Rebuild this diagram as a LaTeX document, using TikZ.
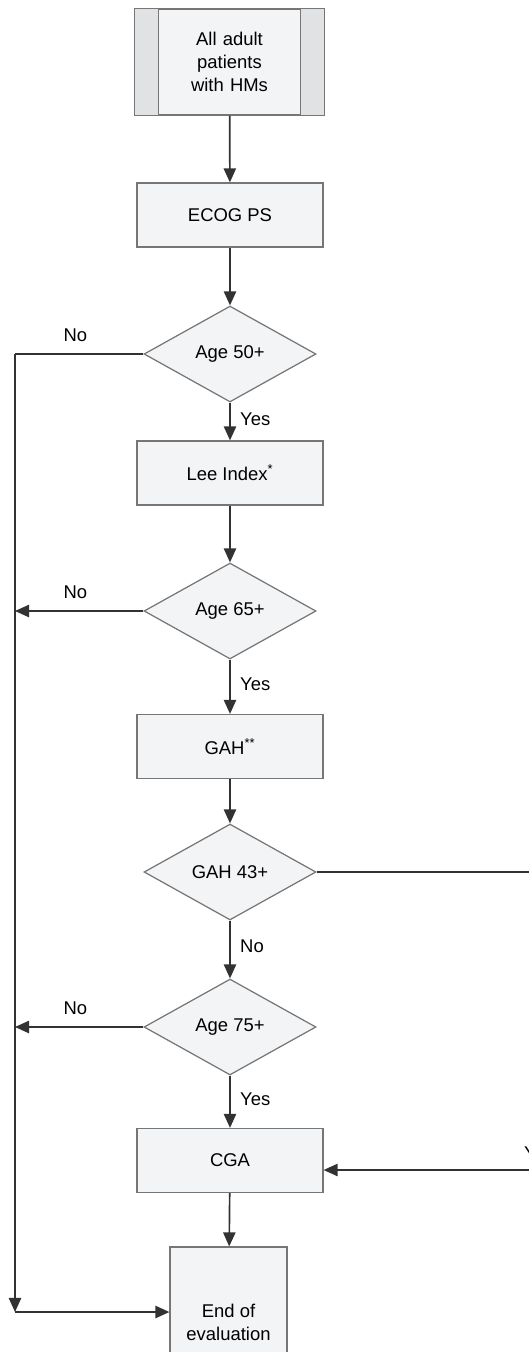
\documentclass[tikz,border=0pt]{standalone}
\usepackage{fontspec}
\setmainfont{Liberation Sans}
\usetikzlibrary{shapes.geometric,arrows.meta}
\definecolor{boxfill}{RGB}{242, 244, 245}
\definecolor{panelfill}{RGB}{225, 226, 228}
\definecolor{boxline}{RGB}{118, 118, 118}
\definecolor{flowline}{RGB}{50, 50, 50}

\begin{document}
\begin{tikzpicture}[x=0.02cm, y=-0.02cm,
  every node/.style={font=\fontsize{10.5}{13}\selectfont, text=black},
  stepbox/.style={draw=boxline, fill=boxfill, line width=0.7pt, minimum width=3.72cm, minimum height=1.28cm, align=center, inner sep=0pt},
  decision/.style={draw=boxline, fill=boxfill, line width=0.7pt, diamond, aspect=1.8, minimum width=3.44cm, minimum height=1.92cm, inner sep=0pt},
  flow/.style={draw=flowline, line width=0.95pt},
  arr/.style={flow, -{Triangle[length=8pt, width=7pt]}}]
  \useasboundingbox (0,0) rectangle (528,1352);

  % start box with side panels
  \node[stepbox, minimum width=3.78cm, minimum height=2.12cm, text width=3cm] (start) at (229.5,62) {All adult\\patients\\with HMs};
  \fill[panelfill] (start.north west) rectangle ([xshift=0.48cm]start.south west);
  \fill[panelfill] ([xshift=-0.48cm]start.north east) rectangle (start.south east);
  \draw[boxline, line width=0.7pt] (start.north west) rectangle (start.south east);
  \draw[boxline, line width=0.7pt] ([xshift=0.48cm]start.north west) -- ([xshift=0.48cm]start.south west);
  \draw[boxline, line width=0.7pt] ([xshift=-0.48cm]start.north east) -- ([xshift=-0.48cm]start.south east);

  \node[stepbox] (ecog) at (230,215) {ECOG PS};
  \node[decision] (a50) at (230,354) {Age 50+};
  \node[stepbox] (lee) at (230,473) {Lee Index\textsuperscript{*}};
  \node[decision] (a65) at (230,611) {Age 65+};
  \node[stepbox] (gah) at (230,746.5) {GAH\textsuperscript{**}};
  \node[decision] (g43) at (230,872) {GAH 43+};
  \node[decision] (a75) at (230,1027) {Age 75+};
  \node[stepbox] (cga) at (230,1160.5) {CGA};
  \node[stepbox, minimum width=2.34cm, minimum height=3cm] (end) at (228.5,1322) {End of\\evaluation};

  \coordinate (lt) at (15,354);
  \coordinate (lb) at (15,1312);
  \coordinate (rt) at (535,872);
  \coordinate (rb) at (535,1170);

  % main column
  \draw[arr] (start) -- (ecog);
  \draw[arr] (ecog) -- (a50);
  \draw[arr] (a50) -- (lee) node[pos=0.45, right, xshift=2pt] {Yes};
  \draw[arr] (lee) -- (a65);
  \draw[arr] (a65) -- (gah) node[pos=0.45, right, xshift=2pt] {Yes};
  \draw[arr] (gah) -- (g43);
  \draw[arr] (g43) -- (a75) node[pos=0.45, right, xshift=2pt] {No};
  \draw[arr] (a75) -- (cga) node[pos=0.45, right, xshift=2pt] {Yes};
  \draw[arr] (cga) -- (end);

  % left return line
  \draw[flow] (a50) -- (lt) node[pos=0.53, above, yshift=3pt] {No};
  \draw[arr] (lt) -- (lb);
  \draw[arr] (lb) -- (lb -| end.west);
  \draw[arr] (a65) -- (a65 -| lt) node[pos=0.53, above, yshift=3pt] {No};
  \draw[arr] (a75) -- (a75 -| lt) node[pos=0.53, above, yshift=3pt] {No};

  % right branch
  \draw[flow] (g43) -- (rt);
  \draw[arr] (rb) -- (rb -| cga.east) node[pos=0, above, anchor=south west, xshift=-10pt, yshift=2pt] {Yes};
\end{tikzpicture}
\end{document}
